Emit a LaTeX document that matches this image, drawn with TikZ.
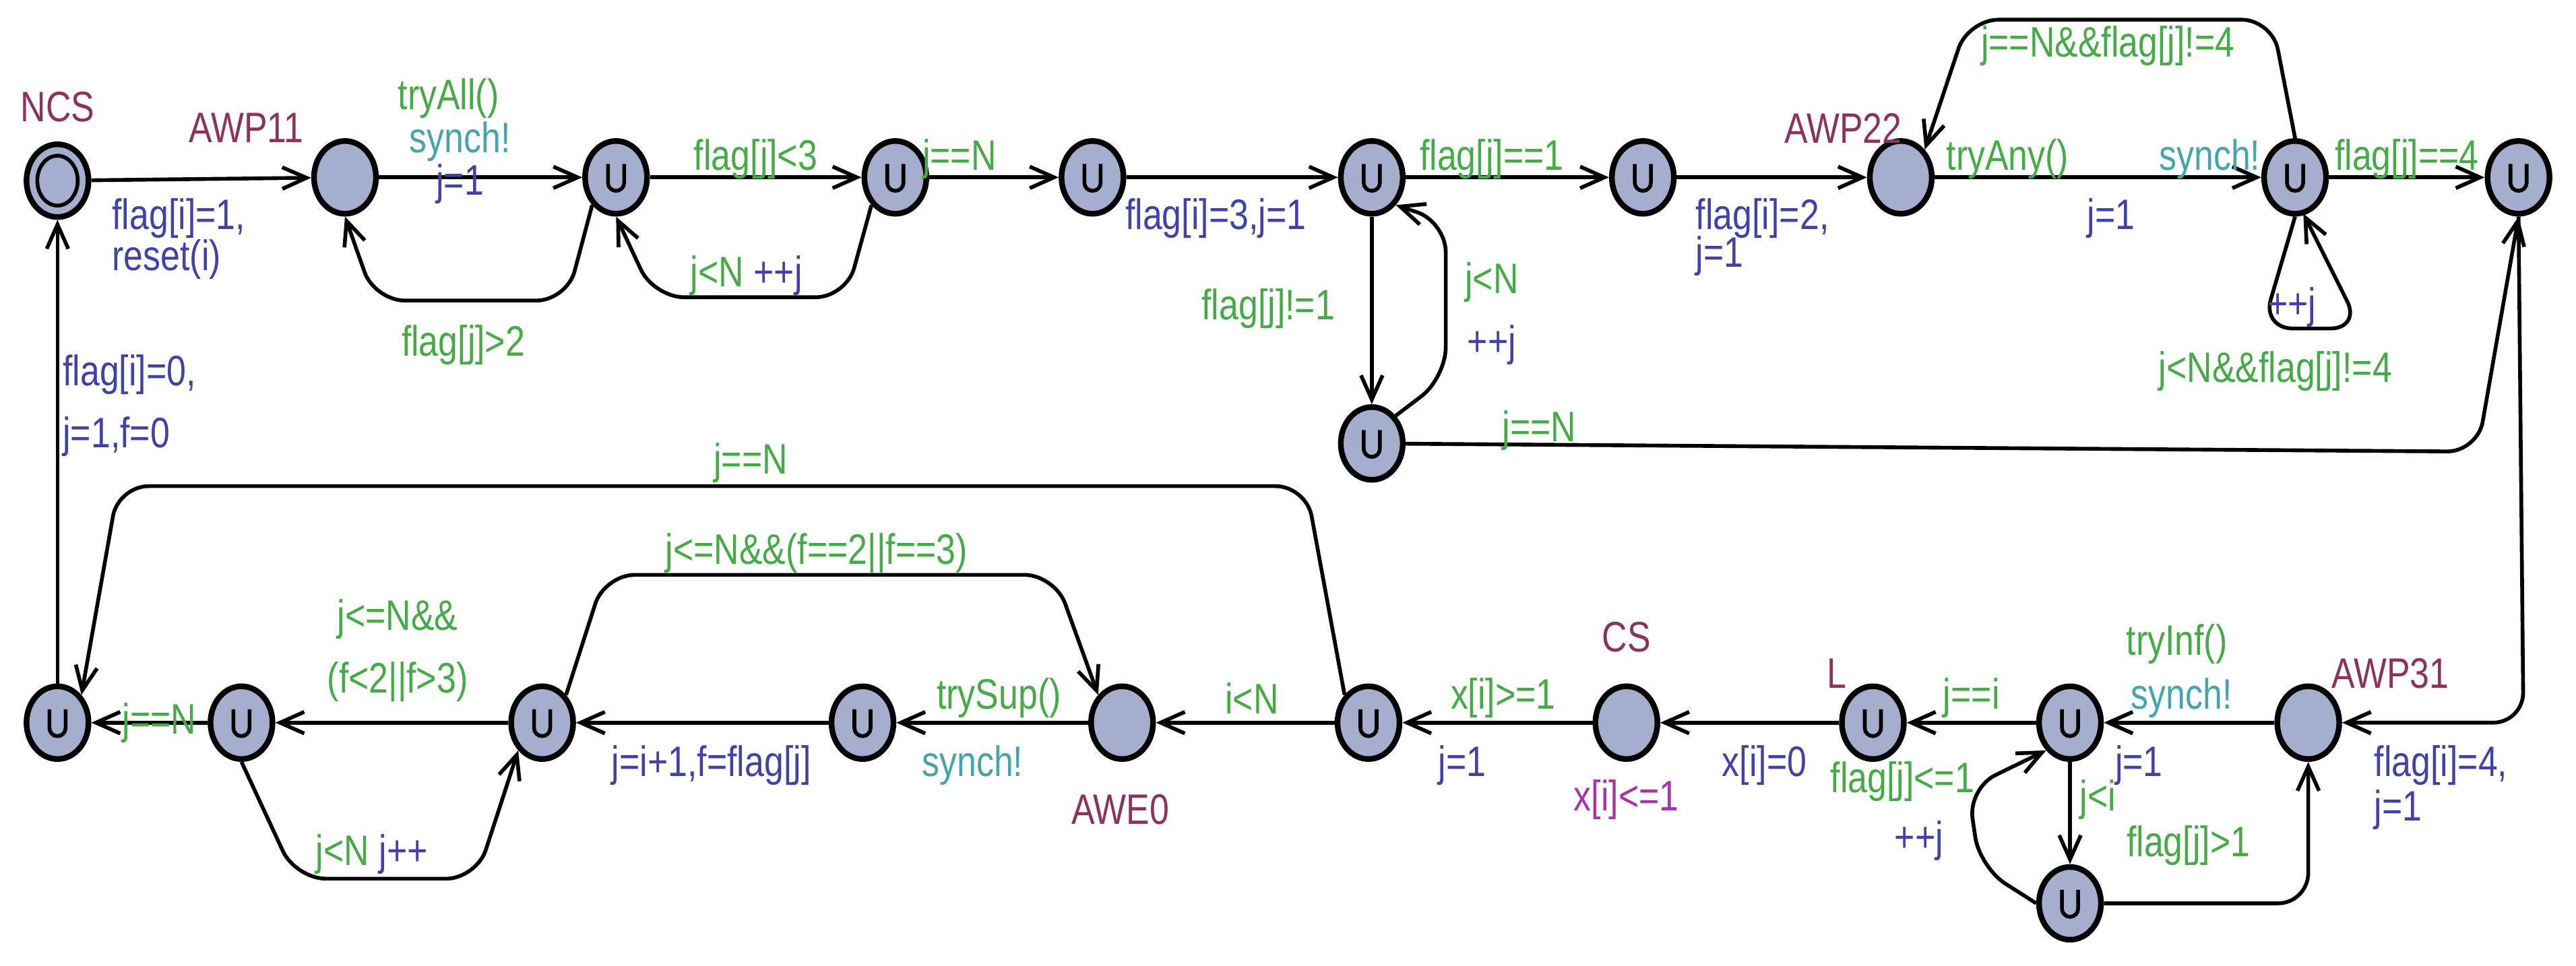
\documentclass[tikz,border=0pt]{standalone}
\usepackage{fontspec}
\setmainfont{Liberation Sans}[FakeStretch=0.82]
\usetikzlibrary{shapes.geometric,arrows.meta}
\definecolor{nm}{RGB}{140,50,95}
\definecolor{gd}{RGB}{70,170,70}
\definecolor{sy}{RGB}{70,165,170}
\definecolor{up}{RGB}{65,65,170}
\definecolor{iv}{RGB}{170,50,170}
\definecolor{nf}{RGB}{166,174,206}
\begin{document}
\begin{tikzpicture}[x=0.02438cm,y=-0.02438cm,
  loc/.style={ellipse,draw,fill=nf,line width=2.4pt,minimum width=0.92cm,minimum height=1.08cm,inner sep=0pt},
  urg/.style={loc,path picture={\draw[line width=1.6pt,shift={(path picture bounding box.center)}] (-0.12cm,0.2cm) -- (-0.12cm,-0.08cm) arc(180:360:0.12cm) -- (0.12cm,0.2cm);}},
  e/.style={line width=1.6pt,-{Straight Barb[length=0.36cm,width=0.32cm,line width=1.6pt]},rounded corners=0.45cm},
  t/.style={inner sep=0pt,font=\fontsize{18}{21}\selectfont},
  nmt/.style={t,text=nm},gdt/.style={t,text=gd},syt/.style={t,text=sy},upt/.style={t,text=up},ivt/.style={t,text=iv}]
\useasboundingbox (0,0) rectangle (1568,588);
% top row
\node[loc] (NCS) at (35,110) {};
\draw[line width=1.6pt] (NCS) ellipse (0.3cm and 0.37cm);
\node[loc] (A11) at (210,108) {};
\node[urg] (n3) at (375,108) {};
\node[urg] (n4) at (545,108) {};
\node[urg] (n5) at (665,108) {};
\node[urg] (n6) at (835,108) {};
\node[urg] (n7) at (1000,108) {};
\node[loc] (A22) at (1157,108) {};
\node[urg] (n9) at (1397,108) {};
\node[urg] (n10) at (1533,108) {};
\node[urg] (n6b) at (835,270) {};
% bottom row
\node[urg] (c1) at (35,440) {};
\node[urg] (c2) at (147,440) {};
\node[urg] (c3) at (330,440) {};
\node[urg] (c4) at (525,440) {};
\node[loc] (AWE) at (683,440) {};
\node[urg] (c6) at (833,440) {};
\node[loc] (CS) at (990,440) {};
\node[urg] (L) at (1140,440) {};
\node[urg] (c9) at (1260,440) {};
\node[loc] (A31) at (1405,440) {};
\node[urg] (c10) at (1260,550) {};
% names
\node[nmt] at (35,65) {NCS};
\node[nmt] at (150,78) {AWP11};
\node[nmt] at (1122,78) {AWP22};
\node[nmt] at (1455,410) {AWP31};
\node[nmt] at (682,493) {AWE0};
\node[nmt] at (990,388) {CS};
\node[nmt] at (1118,410) {L};
\node[ivt] at (990,487) {x[i]<=1};
% edges top
\draw[e] (NCS) -- (A11);
\node[upt,anchor=west] at (68,133) {flag[i]=1,};
\node[upt,anchor=west] at (68,158) {reset(i)};
\draw[e] (A11) -- (n3);
\node[gdt] at (273,60) {tryAll()};
\node[syt] at (280,86) {synch!};
\node[upt] at (280,112) {j=1};
\draw[e] (n3.south west) -- (345,183) -- (228,183) -- (A11.south);
\node[gdt] at (282,210) {flag[j]>2};
\draw[e] (n4.south west) -- (515,181) -- (398,181) -- (n3.south);
\node[t,anchor=west] at (420,168) {\textcolor{gd}{j<N} \textcolor{up}{++j}};
\draw[e] (n3) -- (n4);
\node[gdt] at (460,97) {flag[j]<3};
\draw[e] (n4) -- (n5);
\node[gdt] at (584,97) {j==N};
\draw[e] (n5) -- (n6);
\node[upt] at (740,133) {flag[i]=3,j=1};
\draw[e] (n6) -- (n7);
\node[gdt] at (908,97) {flag[j]==1};
\draw[e] (n7) -- (A22);
\node[upt,anchor=west] at (1032,133) {flag[i]=2,};
\node[upt,anchor=west] at (1032,156) {j=1};
\draw[e] (A22) -- (n9);
\node[gdt] at (1222,97) {tryAny()};
\node[syt] at (1345,97) {synch!};
\node[upt] at (1285,133) {j=1};
\draw[e] (n9.north) -- (1383,12) -- (1198,12) -- (A22.north east);
\node[gdt] at (1283,28) {j==N\&\&flag[j]!=4};
\draw[e] (n9.south) -- (1377,200) -- (1437,200) -- (1402,130);
\node[upt] at (1395,187) {++j};
\node[gdt] at (1385,226) {j<N\&\&flag[j]!=4};
\draw[e] (n9) -- (n10);
\node[gdt] at (1465,97) {flag[j]==4};
\draw[e] (n6) -- (n6b);
\node[gdt] at (772,188) {flag[j]!=1};
\draw[e] (n6b.north east) -- (880,230) -- (880,135) -- (n6.south east);
\node[gdt] at (908,172) {j<N};
\node[upt] at (908,210) {++j};
\draw[e] (n6b) -- (1508,275) -- (n10.south);
\node[gdt] at (937,262) {j==N};
\draw[e] (n10.south) -- (1536,440) -- (A31);
\node[upt,anchor=west] at (1445,466) {flag[i]=4,};
\node[upt,anchor=west] at (1445,493) {j=1};
% bottom edges
\draw[e] (A31) -- (c9);
\node[gdt] at (1325,392) {tryInf()};
\node[syt] at (1328,425) {synch!};
\node[upt] at (1302,466) {j=1};
\draw[e] (c9) -- (L);
\node[gdt] at (1200,425) {j==i};
\draw[e] (c9) -- (c10);
\node[gdt] at (1277,487) {j<i};
\draw[e] (c10.west) -- (1205,528) -- (1198,480) -- (c9.south west);
\node[gdt] at (1158,476) {flag[j]<=1};
\node[upt] at (1168,512) {++j};
\draw[e] (c10) -- (1405,550) -- (A31.south);
\node[gdt] at (1332,515) {flag[j]>1};
\draw[e] (L) -- (CS);
\node[upt] at (1074,466) {x[i]=0};
\draw[e] (CS) -- (c6);
\node[gdt] at (915,425) {x[i]>=1};
\node[upt] at (890,466) {j=1};
\draw[e] (c6) -- (AWE);
\node[gdt] at (762,425) {i<N};
\draw[e] (c6.north west) -- (795,296) -- (72,296) -- (c1.north east);
\node[gdt] at (457,282) {j==N};
\draw[e] (AWE) -- (c4);
\node[gdt] at (608,425) {trySup()};
\node[syt] at (592,466) {synch!};
\draw[e] (c4) -- (c3);
\node[upt] at (433,466) {j=i+1,f=flag[j]};
\draw[e] (c3.north east) -- (368,350) -- (642,350) -- (AWE.north west);
\node[gdt] at (497,337) {j<=N\&\&(f==2||f==3)};
\draw[e] (c3) -- (c2);
\node[gdt] at (242,377) {j<=N\&\&};
\node[gdt] at (242,415) {(f<2||f>3)};
\draw[e] (c2.south) -- (180,535) -- (290,535) -- (c3.south west);
\node[t,anchor=west] at (192,520) {\textcolor{gd}{j<N} \textcolor{up}{j++}};
\draw[e] (c2) -- (c1);
\node[gdt] at (97,440) {j==N};
\draw[e] (c1) -- (NCS);
\node[upt,anchor=west] at (38,228) {flag[i]=0,};
\node[upt,anchor=west] at (38,266) {j=1,f=0};
\end{tikzpicture}
\end{document}
